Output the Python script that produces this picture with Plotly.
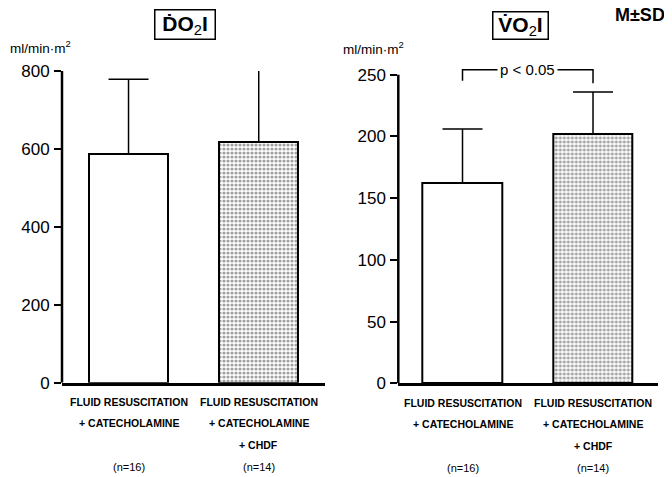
import plotly.graph_objects as go

W, H = 672, 477
OFF = 8  # page body margin: the figure is drawn 8px right and down

categories = ["FLUID RESUSCITATION + CATECHOLAMINE", "FLUID RESUSCITATION + CATECHOLAMINE + CHDF"]
label_lines = [
    ["FLUID RESUSCITATION", "+ CATECHOLAMINE", "", "(n=16)"],
    ["FLUID RESUSCITATION", "+ CATECHOLAMINE", "+ CHDF", "(n=14)"],
]
do2i_mean = [587, 617]
do2i_sd = [192, 228]
vo2i_mean = [162, 202]
vo2i_sd = [44, 34]
do2i_ticks = [0, 200, 400, 600, 800]
vo2i_ticks = [0, 50, 100, 150, 200, 250]
do2i_max = 800
vo2i_max = 250
bracket_y = 254
bracket_drop = [245, 243]

TICKFONT = dict(family="Liberation Sans, Arial, sans-serif", size=17, color="black")
LBLFONT = dict(family="Liberation Sans, Arial, sans-serif", size=10.5, color="black", weight="bold")
NFONT = dict(family="Liberation Sans, Arial, sans-serif", size=11, color="black")
TITLEFONT = dict(family="Liberation Sans, Arial", size=21, color="black")

def px_x(p):
    return (p - OFF) / W

def px_y(p):
    return 1 - (p - OFF) / H

fig = go.Figure()
xs = [0, 1]

for mean, sd, xa, ya, bw in [(do2i_mean, do2i_sd, "x", "y", 0.607), (vo2i_mean, vo2i_sd, "x2", "y2", 0.609)]:
    fig.add_trace(go.Bar(
        x=xs, y=mean, width=bw, xaxis=xa, yaxis=ya,
        marker=dict(color=["white", "white"], line=dict(color="black", width=2),
                    pattern=dict(shape=["", "."], fgcolor="black", bgcolor="white", size=4, solidity=0.5)),
        error_y=dict(type="data", array=sd, arrayminus=[0, 0], symmetric=False,
                     color="black", thickness=1.5, width=20),
        showlegend=False,
    ))

axcommon_x = dict(showgrid=False, zeroline=False, showticklabels=False, ticks="",
                  showline=True, linecolor="black", linewidth=2.5, fixedrange=True, automargin=False)
axcommon_y = dict(showgrid=False, zeroline=False, ticks="outside", ticklen=7, tickwidth=1.5,
                  tickcolor="black", showline=False,
                  tickfont=TICKFONT, ticklabelstandoff=1, automargin=False)

r_scale = (383.3 - 74.7) / vo2i_max
r_top_val = 262
r_top_px = 383.3 - r_top_val * r_scale

fig.update_layout(
    width=W, height=H,
    margin=dict(l=0, r=0, t=0, b=0, autoexpand=False),
    paper_bgcolor="white", plot_bgcolor="white",
    bargap=0,
    xaxis=dict(domain=[px_x(62), px_x(325)], range=[-0.511, 1.509], anchor="y", **axcommon_x),
    yaxis=dict(domain=[px_y(382.7), px_y(71)], range=[0, do2i_max], anchor="x",
               tickvals=do2i_ticks, **axcommon_y),
    xaxis2=dict(domain=[px_x(398.3), px_x(658)], range=[-0.492, 1.498], anchor="y2", **axcommon_x),
    yaxis2=dict(domain=[px_y(383.3), px_y(r_top_px)], range=[0, r_top_val], anchor="x2",
                tickvals=vo2i_ticks, **axcommon_y),
)

fig.add_shape(type="line", xref="x domain", yref="y", x0=0, x1=0, y0=0, y1=do2i_max,
              line=dict(color="black", width=2.5))
fig.add_shape(type="line", xref="x2 domain", yref="y2", x0=0, x1=0, y0=0, y1=vo2i_max,
              line=dict(color="black", width=2.5))

ann = []
ann.append(dict(text="<b>Ḋ</b><b>O</b><sub>2</sub><b>I</b>", x=px_x(184.5), y=px_y(25), xref="paper", yref="paper",
                showarrow=False, font=TITLEFONT, width=57,
                bordercolor="black", borderwidth=1.5, borderpad=1, xanchor="center", yanchor="middle"))
ann.append(dict(text="<b>V̇</b><b>O</b><sub>2</sub><b>I</b>", x=px_x(520), y=px_y(25.5), xref="paper", yref="paper",
                showarrow=False, font=TITLEFONT, width=54,
                bordercolor="black", borderwidth=1.5, borderpad=0, xanchor="center", yanchor="middle"))
ann.append(dict(text="<b>M±SD</b>", x=px_x(640), y=px_y(15), xref="paper", yref="paper", showarrow=False,
                xanchor="center", yanchor="middle",
                font=dict(family="Liberation Sans, Arial", size=18, color="black")))
for xc, yc in [(40, 47), (374, 48)]:
    ann.append(dict(text="ml/min·m<sup>2</sup>", x=px_x(xc), y=px_y(yc), xref="paper", yref="paper",
                    showarrow=False, xanchor="center", yanchor="middle",
                    font=dict(family="Liberation Sans, Arial", size=13.5, color="black")))
row_y = [402, 423, 445, 467]
for xr in ["x", "x2"]:
    for i, lines in enumerate(label_lines):
        for j, t in enumerate(lines):
            if not t:
                continue
            ann.append(dict(text=t, x=xs[i], xref=xr, y=px_y(row_y[j] + (1 if xr == "x2" else 0)), yref="paper",
                            showarrow=False, xanchor="center", yanchor="middle",
                            font=NFONT if t.startswith("(") else LBLFONT))
ann.append(dict(text="p < 0.05", x=0.5, xref="x2", y=bracket_y, yref="y2", showarrow=False,
                bgcolor="white", borderpad=2, xanchor="center", yanchor="middle",
                font=dict(family="Liberation Sans, Arial", size=15, color="black")))
fig.update_layout(annotations=ann)

fig.add_shape(type="path", xref="x2", yref="y2",
              path=f"M 0 {bracket_drop[0]} L 0 {bracket_y} L 1 {bracket_y} L 1 {bracket_drop[1]}",
              line=dict(color="black", width=1.5))

fig.write_html("out.html")
